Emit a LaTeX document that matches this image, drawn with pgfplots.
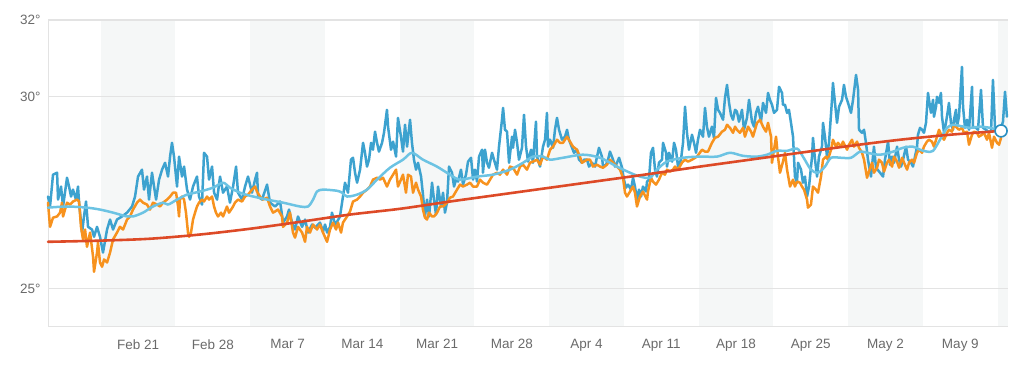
\documentclass[border=0pt]{standalone}
\usepackage{fontspec}
\setmainfont{Liberation Sans}
\usepackage{pgfplots}
\pgfplotsset{compat=1.18}
\definecolor{dblue}{HTML}{3DA2CF}
\definecolor{lblue}{HTML}{6CC3E3}
\definecolor{orng}{HTML}{F7921E}
\definecolor{trend}{HTML}{DD4A27}
\definecolor{band}{HTML}{F5F7F7}
\definecolor{gridgray}{HTML}{E3E3E3}
\definecolor{labelgray}{HTML}{6A6A6A}
\definecolor{ring}{HTML}{2A90C2}
\begin{document}
\begin{tikzpicture}
\begin{axis}[
  set layers,
  scale only axis, width=960pt, height=307pt,
  xmin=-8.43, xmax=81.46, ymin=24, ymax=32,
  axis line style={draw=none},
  xtick={0,7,...,77},
  xticklabels={Feb 21,Feb 28,Mar 7,Mar 14,Mar 21,Mar 28,Apr 4,Apr 11,Apr 18,Apr 25,May 2,May 9},
  ytick={25,30,32}, yticklabels={25°,30°,32°},
  major tick length=0pt,
  ymajorgrids, grid style={color=gridgray, line width=0.9pt},
  tick label style={font=\fontsize{13.5}{13.5}\selectfont, text=labelgray},
  xticklabel style={yshift=-9pt},
  yticklabel style={xshift=-4pt},
  clip=false,
  every axis plot/.append style={line join=round, line cap=round},
]
\begin{pgfonlayer}{axis background}
\fill[band] (axis cs:-3.5,24) rectangle (axis cs:3.5,32);
\fill[band] (axis cs:10.5,24) rectangle (axis cs:17.5,32);
\fill[band] (axis cs:24.5,24) rectangle (axis cs:31.5,32);
\fill[band] (axis cs:38.5,24) rectangle (axis cs:45.5,32);
\fill[band] (axis cs:52.5,24) rectangle (axis cs:59.5,32);
\fill[band] (axis cs:66.5,24) rectangle (axis cs:73.5,32);
\fill[band] (axis cs:80.5,24) rectangle (axis cs:81.46,32);
\end{pgfonlayer}
\draw[gridgray, line width=1pt] (rel axis cs:0,1) -- (rel axis cs:0,0) -- (rel axis cs:1,0);
\draw[gridgray, line width=1pt] (rel axis cs:0,1) -- (rel axis cs:1,1);

% dark blue series
\addplot[dblue, line width=2.5pt] coordinates {
(-8.43,27.40)(-8.24,27.14)(-7.96,27.97)(-7.58,28.02)(-7.49,27.32)(-7.21,27.66)(-7.02,27.14)(-6.65,27.89)(-6.46,27.66)(-6.27,27.40)
(-6.09,27.58)(-5.81,27.32)(-5.62,27.66)(-5.52,27.24)(-5.24,26.46)(-5.06,26.88)(-4.87,27.27)(-4.68,26.61)(-4.31,26.54)(-4.12,26.35)
(-3.84,26.61)(-3.56,26.35)(-3.28,25.94)(-2.90,26.54)(-2.62,26.80)(-2.34,26.54)(-1.97,26.80)(-1.50,26.88)(-1.03,26.98)(-0.56,27.14)
(-0.28,27.40)(0,27.92)(0.37,28.10)(0.56,27.58)(0.84,27.92)(1.03,27.32)(1.31,28.02)(1.50,27.66)(1.69,27.32)(1.97,27.84)
(2.25,28.10)(2.53,28.28)(2.81,27.92)(3.00,28.44)(3.18,28.80)(3.37,28.44)(3.65,27.66)(3.84,28.44)(4.12,27.92)(4.31,28.18)
(4.59,27.58)(4.87,27.32)(5.15,27.66)(5.52,27.92)(5.71,27.40)(5.99,27.19)(6.18,28.54)(6.46,28.44)(6.65,27.84)(6.93,28.18)
(7.12,27.50)(7.40,27.32)(7.68,27.92)(7.96,27.50)(8.33,27.66)(8.61,27.24)(8.90,27.66)(9.18,28.18)(9.36,27.50)(9.74,27.32)
(10.02,27.66)(10.30,27.92)(10.67,27.50)(10.96,27.84)(11.14,28.02)(11.24,27.40)(11.61,27.32)(12.08,27.71)(12.36,27.24)(12.83,27.14)
(13.30,27.27)(13.58,26.72)(13.95,26.88)(14.14,27.06)(14.42,26.72)(14.70,26.54)(14.98,26.88)(15.36,26.61)(15.64,26.80)(15.92,26.46)
(16.29,26.67)(16.57,26.59)(17.04,26.72)(17.32,26.48)(17.51,26.67)(17.70,26.46)(17.98,26.61)(18.16,26.98)(18.45,26.67)(18.63,26.74)
(18.91,26.88)(19.19,27.40)(19.38,27.76)(19.66,27.50)(19.94,28.36)(20.13,28.41)(20.32,28.02)(20.51,27.76)(20.79,28.10)(21.07,28.80)
(21.25,28.54)(21.44,28.18)(21.63,28.36)(21.82,28.80)(22.00,28.62)(22.19,29.09)(22.38,28.80)(22.56,28.57)(22.85,28.80)(23.03,29.06)
(23.31,29.66)(23.41,29.22)(23.69,28.62)(23.88,28.83)(24.16,28.44)(24.34,29.45)(24.62,28.96)(24.81,28.57)(25.00,29.27)(25.19,28.70)
(25.47,29.40)(25.65,28.80)(25.84,28.36)(26.03,28.10)(26.22,28.28)(26.50,27.92)(26.68,27.45)(26.87,26.88)(27.06,27.32)(27.25,26.88)
(27.53,27.76)(27.71,27.32)(27.90,26.93)(28.09,27.66)(28.37,27.14)(28.56,27.50)(28.74,26.98)(28.93,27.24)(29.12,28.18)(29.40,28.02)
(29.59,27.66)(29.77,27.84)(29.96,27.79)(30.24,28.10)(30.43,27.71)(30.71,27.97)(30.90,28.31)(31.18,28.41)(31.37,27.84)(31.55,28.10)
(31.74,27.79)(31.93,28.44)(32.21,28.62)(32.30,28.02)(32.49,28.62)(32.68,28.28)(32.86,28.15)(33.15,28.54)(33.33,28.36)(33.61,28.10)
(33.80,28.70)(34.08,29.40)(34.18,29.71)(34.36,29.14)(34.55,29.09)(34.74,28.28)(35.02,28.96)(35.11,28.67)(35.30,29.14)(35.49,28.80)
(35.67,28.36)(35.95,28.67)(36.14,29.53)(36.33,28.70)(36.52,28.31)(36.80,28.62)(36.98,28.28)(37.26,29.35)(37.36,28.44)(37.64,28.18)
(37.92,28.70)(38.11,28.88)(38.29,29.58)(38.39,28.70)(38.58,28.88)(38.86,28.67)(39.04,29.14)(39.23,29.45)(39.42,29.14)(39.70,28.88)
(39.98,28.96)(40.17,29.14)(40.35,28.88)(40.64,28.67)(40.82,28.54)(41.10,28.62)(41.29,28.36)(41.57,28.28)(41.76,28.36)(42.04,28.36)
(42.23,28.18)(42.51,28.28)(42.79,28.18)(42.98,28.44)(43.16,28.67)(43.44,28.44)(43.54,28.18)(43.82,28.23)(44.01,28.36)(44.19,28.57)
(44.48,28.36)(44.66,28.18)(44.85,28.28)(45.04,28.41)(45.32,28.15)(45.50,27.84)(45.69,27.63)(45.88,27.71)(46.16,27.58)(46.35,27.89)
(46.53,27.66)(46.72,27.32)(46.91,27.58)(47.10,27.40)(47.28,27.66)(47.56,27.53)(47.66,27.79)(47.84,27.84)(48.03,28.54)(48.22,28.67)
(48.41,28.10)(48.59,27.92)(48.78,28.28)(49.06,28.36)(49.16,28.80)(49.44,28.54)(49.53,28.18)(49.72,28.54)(50.00,28.31)(50.19,28.80)
(50.37,28.62)(50.56,28.18)(50.84,28.36)(51.03,28.80)(51.22,29.74)(51.40,29.06)(51.59,28.62)(51.87,29.01)(52.06,28.80)(52.25,28.54)
(52.43,28.88)(52.62,29.14)(52.90,28.96)(53.09,29.71)(53.27,29.22)(53.46,28.96)(53.74,29.22)(53.93,28.93)(54.12,29.97)(54.31,29.66)
(54.49,29.58)(54.78,29.40)(54.96,29.97)(55.15,30.31)(55.34,29.84)(55.52,29.53)(55.71,29.40)(55.90,29.66)(56.08,29.61)(56.27,29.35)
(56.55,29.66)(56.74,29.14)(57.02,29.45)(57.21,29.92)(57.49,29.35)(57.68,29.22)(57.86,29.58)(58.05,29.74)(58.33,29.35)(58.52,29.84)
(58.80,29.58)(58.99,30.10)(59.17,29.92)(59.36,29.79)(59.55,29.58)(59.83,29.66)(60.02,30.26)(60.30,30.10)(60.39,29.79)(60.58,29.79)
(60.77,29.58)(60.95,29.66)(61.14,29.32)(61.33,28.96)(61.51,27.92)(61.70,27.76)(61.80,28.28)(62.08,28.10)(62.26,27.76)(62.45,27.92)
(62.64,27.40)(62.83,27.66)(63.11,28.44)(63.20,28.93)(63.39,28.36)(63.58,27.92)(63.76,28.44)(64.04,28.70)(64.14,29.32)(64.32,28.96)
(64.51,28.44)(64.70,28.80)(64.98,29.92)(65.07,30.36)(65.26,29.84)(65.45,29.32)(65.64,29.74)(65.92,29.92)(66.10,30.31)(66.29,30.00)
(66.48,29.84)(66.76,29.58)(66.95,29.92)(67.23,30.57)(67.42,30.18)(67.51,29.14)(67.79,29.06)(67.98,29.14)(68.16,28.80)(68.35,28.36)
(68.63,27.92)(68.91,28.70)(69.10,28.15)(69.48,28.02)(69.76,27.92)(69.94,28.36)(70.23,28.83)(70.41,28.23)(70.60,28.44)(70.79,28.28)
(71.07,28.70)(71.26,28.36)(71.44,28.18)(71.63,28.36)(71.91,28.70)(72.10,28.36)(72.38,28.28)(72.56,28.18)(72.75,28.44)(72.94,28.70)
(73.03,29.01)(73.22,29.19)(73.41,29.14)(73.59,29.06)(73.78,29.32)(73.97,30.10)(74.06,29.92)(74.25,29.58)(74.44,29.92)(74.53,29.48)
(74.72,29.74)(74.81,30.00)(75.00,29.84)(75.18,30.10)(75.28,29.48)(75.47,29.06)(75.65,29.32)(75.84,29.66)(75.93,29.84)(76.12,29.32)
(76.31,29.14)(76.40,29.40)(76.59,29.66)(76.68,29.22)(76.87,29.48)(77.15,30.78)(77.25,29.74)(77.43,29.19)(77.62,29.40)(77.81,29.14)
(78.09,30.26)(78.18,29.22)(78.46,29.19)(78.65,29.14)(78.93,30.18)(79.12,29.19)(79.40,29.14)(79.59,29.09)(79.87,29.09)(80.05,30.44)
(80.24,29.22)(80.43,29.14)(80.71,29.11)(80.99,29.35)(81.18,30.13)(81.36,29.48)
};

% orange series
\addplot[orng, line width=2.5pt] coordinates {
(-8.43,27.24)(-8.24,26.61)(-7.96,26.85)(-7.58,26.88)(-7.30,26.98)(-7.12,27.24)(-7.02,26.88)(-6.65,27.24)(-6.37,27.19)(-6.09,27.27)
(-5.71,27.32)(-5.52,27.27)(-5.34,26.61)(-5.15,26.28)(-4.96,26.54)(-4.78,26.09)(-4.49,26.46)(-4.21,25.83)(-4.12,25.44)(-3.84,25.94)
(-3.75,26.20)(-3.56,25.68)(-3.37,25.57)(-3.18,25.76)(-2.90,25.68)(-2.62,25.94)(-2.34,26.28)(-1.97,26.46)(-1.69,26.61)(-1.40,26.54)
(-1.03,26.80)(-0.75,26.88)(-0.47,27.06)(-0.09,27.24)(0.19,27.32)(0.47,27.24)(0.84,27.19)(1.12,27.06)(1.40,27.24)(1.78,27.19)
(2.06,27.14)(2.34,27.24)(2.72,27.32)(3.00,27.40)(3.28,27.50)(3.56,27.50)(3.75,27.14)(3.84,26.88)(3.93,27.32)(4.12,27.40)
(4.31,27.32)(4.49,26.98)(4.68,26.46)(4.78,26.35)(4.96,26.46)(5.15,26.80)(5.34,26.98)(5.52,27.14)(5.71,27.24)(5.99,27.32)
(6.18,27.27)(6.46,27.40)(6.65,27.32)(6.93,27.40)(7.12,27.14)(7.30,26.98)(7.49,26.88)(7.77,26.98)(7.96,26.88)(8.33,27.14)
(8.52,26.98)(8.90,27.14)(9.08,27.24)(9.36,27.32)(9.74,27.27)(10.02,27.40)(10.30,27.45)(10.67,27.58)(10.96,27.66)(11.14,27.53)
(11.42,27.40)(11.70,27.32)(12.08,27.37)(12.36,27.14)(12.64,26.98)(12.83,27.01)(13.11,27.06)(13.48,26.88)(13.58,26.61)(13.95,26.72)
(14.23,26.98)(14.51,26.46)(14.70,26.33)(14.98,26.61)(15.36,26.46)(15.64,26.22)(15.82,26.61)(16.10,26.46)(16.39,26.67)(16.76,26.54)
(17.04,26.67)(17.32,26.46)(17.70,26.22)(17.98,26.54)(18.26,26.72)(18.54,26.54)(18.73,26.72)(19.01,26.46)(19.19,26.72)(19.57,26.88)
(19.85,27.01)(20.13,27.27)(20.51,27.32)(20.79,27.40)(21.07,27.50)(21.44,27.58)(21.72,27.66)(22.00,27.84)(22.38,27.89)(22.66,27.84)
(22.94,27.89)(23.31,27.66)(23.59,27.84)(23.88,27.97)(24.16,28.10)(24.34,27.66)(24.62,27.84)(24.81,27.97)(25.09,27.50)(25.28,27.97)
(25.56,27.92)(25.75,27.50)(26.03,27.76)(26.22,27.58)(26.50,27.40)(26.68,27.06)(26.87,26.85)(27.06,26.80)(27.25,26.98)(27.53,26.88)
(27.71,26.88)(28.00,26.98)(28.28,27.14)(28.56,27.14)(28.93,27.24)(29.21,27.37)(29.49,27.40)(29.87,27.58)(30.15,27.71)(30.43,27.66)
(30.80,27.71)(31.09,27.76)(31.37,27.66)(31.74,27.66)(32.02,27.84)(32.30,27.76)(32.68,27.71)(32.96,27.84)(33.24,27.97)(33.61,28.02)
(33.89,27.97)(34.18,28.10)(34.55,27.97)(34.83,28.18)(35.11,28.15)(35.49,27.97)(35.77,28.18)(36.05,28.23)(36.42,28.10)(36.70,28.28)
(36.98,28.31)(37.36,28.36)(37.64,28.23)(37.92,28.44)(38.29,28.36)(38.58,28.62)(38.86,28.70)(39.23,28.88)(39.51,28.80)(39.79,28.80)
(40.17,28.96)(40.45,28.83)(40.73,28.70)(41.10,28.62)(41.38,28.44)(41.57,28.28)(42.04,28.36)(42.32,28.36)(42.60,28.18)(42.98,28.23)
(43.26,28.18)(43.54,28.15)(43.91,28.23)(44.19,28.36)(44.48,28.28)(44.85,28.18)(45.13,28.10)(45.41,27.89)(45.60,27.50)(45.78,27.40)
(46.07,27.53)(46.35,27.66)(46.53,27.50)(46.72,27.14)(47.00,27.40)(47.28,27.53)(47.66,27.32)(47.75,27.53)(48.03,27.89)(48.22,27.79)
(48.50,27.71)(48.78,27.84)(49.06,28.02)(49.34,27.97)(49.53,28.10)(49.81,28.05)(50.09,28.10)(50.28,28.18)(50.56,28.10)(50.93,28.28)
(51.22,28.36)(51.50,28.31)(51.87,28.36)(52.34,28.44)(52.81,28.62)(53.09,28.57)(53.37,28.57)(53.74,28.80)(54.02,28.93)(54.31,28.96)
(54.68,29.09)(54.96,29.14)(55.15,29.27)(55.43,29.19)(55.71,29.06)(55.90,29.22)(56.08,29.14)(56.36,29.06)(56.65,29.19)(56.83,28.96)
(57.12,29.22)(57.40,29.09)(57.58,28.96)(57.96,29.32)(58.24,29.40)(58.52,29.22)(58.80,29.09)(58.99,29.32)(59.27,28.96)(59.36,28.28)
(59.55,28.62)(59.74,28.96)(59.92,28.44)(60.11,28.02)(60.39,28.31)(60.58,28.54)(60.77,28.10)(61.05,27.66)(61.33,27.84)(61.51,27.66)
(61.70,27.79)(61.98,27.76)(62.17,27.66)(62.36,27.58)(62.64,27.32)(62.73,27.11)(63.01,27.19)(63.20,27.66)(63.48,27.58)(63.67,27.50)
(63.95,27.92)(64.14,28.36)(64.42,28.44)(64.60,28.36)(64.89,28.62)(65.07,28.88)(65.35,28.70)(65.54,28.80)(65.82,28.70)(66.01,28.83)
(66.39,28.62)(66.57,28.75)(66.85,28.88)(67.04,28.70)(67.32,28.83)(67.51,28.67)(67.79,28.54)(67.98,28.36)(68.26,27.89)(68.44,28.05)
(68.73,28.28)(68.91,28.02)(69.20,28.15)(69.38,28.36)(69.66,28.28)(69.85,28.05)(70.13,28.28)(70.32,28.36)(70.60,28.18)(70.79,28.44)
(71.07,28.31)(71.26,28.15)(71.54,28.41)(71.73,28.28)(72.01,28.10)(72.19,28.28)(72.47,28.36)(72.66,28.28)(72.94,28.54)(73.13,28.62)
(73.41,28.54)(73.59,28.70)(73.87,28.83)(74.06,28.88)(74.34,28.83)(74.53,28.70)(74.81,28.96)(75.00,29.14)(75.28,28.96)(75.47,28.88)
(75.75,29.06)(75.93,29.14)(76.21,29.09)(76.40,29.27)(76.68,29.19)(76.87,29.14)(77.15,29.19)(77.34,29.06)(77.62,29.09)(77.81,28.75)
(78.09,29.01)(78.27,29.09)(78.55,29.06)(78.74,28.96)(79.02,29.01)(79.21,29.06)(79.49,28.88)(79.68,29.06)(79.96,28.67)(80.15,28.96)
(80.43,28.80)(80.62,28.75)(80.81,28.93)
};

% light blue smooth series
\addplot[lblue, line width=2.5pt, smooth] coordinates {
(-8.43,27.11)(-6.65,27.14)(-4.78,27.11)(-3.56,27.06)(-2.34,26.98)(-1.03,26.88)(-0.47,26.88)(0.47,26.98)(1.40,27.14)(2.34,27.24)
(2.81,27.19)(3.65,27.32)(4.59,27.45)(5.81,27.53)(7.02,27.63)(7.96,27.76)(8.61,27.63)(9.55,27.50)(10.49,27.42)(12.08,27.32)
(13.58,27.24)(15.17,27.14)(15.92,27.14)(16.39,27.32)(16.76,27.53)(17.32,27.58)(18.63,27.55)(19.10,27.50)(19.57,27.40)(20.51,27.45)
(21.44,27.58)(22.38,27.84)(23.59,28.15)(24.81,28.36)(25.65,28.54)(26.68,28.36)(27.99,28.18)(29.21,27.97)(30.15,27.84)(31.74,27.92)
(33.24,27.97)(34.83,28.10)(36.05,28.28)(36.98,28.44)(37.92,28.44)(38.58,28.36)(39.79,28.41)(41.66,28.49)(43.26,28.41)(44.85,28.18)
(46.07,28.02)(47.00,27.92)(47.94,27.89)(48.59,28.10)(49.53,28.31)(51.03,28.41)(52.62,28.44)(54.21,28.44)(55.43,28.54)(56.65,28.46)
(57.96,28.44)(58.89,28.49)(59.83,28.59)(60.77,28.59)(61.70,28.65)(62.26,28.44)(63.01,28.10)(63.67,28.02)(64.32,28.18)(64.89,28.41)
(65.82,28.41)(66.76,28.41)(67.60,28.57)(68.26,28.54)(69.48,28.49)(70.69,28.57)(71.63,28.67)(72.56,28.70)(73.22,28.62)(73.87,28.57)
(74.44,28.59)(75.09,28.88)(75.75,29.19)(76.31,29.27)(76.96,29.24)(77.90,29.19)(78.84,29.22)(79.77,29.19)(80.52,29.14)
};

% trend line
\addplot[trend, line width=2.6pt, smooth] coordinates {
(-8.43,26.22)(-3.56,26.25)(1.12,26.30)(5.81,26.41)(10.49,26.56)(15.17,26.74)(19.85,26.93)(24.53,27.08)(29.21,27.27)(33.89,27.45)
(38.58,27.63)(43.26,27.81)(47.94,27.99)(52.62,28.18)(57.30,28.36)(61.98,28.54)(66.67,28.72)(71.35,28.88)(76.03,29.01)(80.81,29.11)
};

\addplot[only marks, mark=*, mark size=6pt, mark options={fill=white, draw=ring, line width=1.6pt}] coordinates {(80.81,29.11)};
\end{axis}
\pgfresetboundingbox
\path ([shift={(-48pt,-39pt)}]current axis.south west) rectangle ([shift={(16pt,20pt)}]current axis.north east);
\end{tikzpicture}
\end{document}
